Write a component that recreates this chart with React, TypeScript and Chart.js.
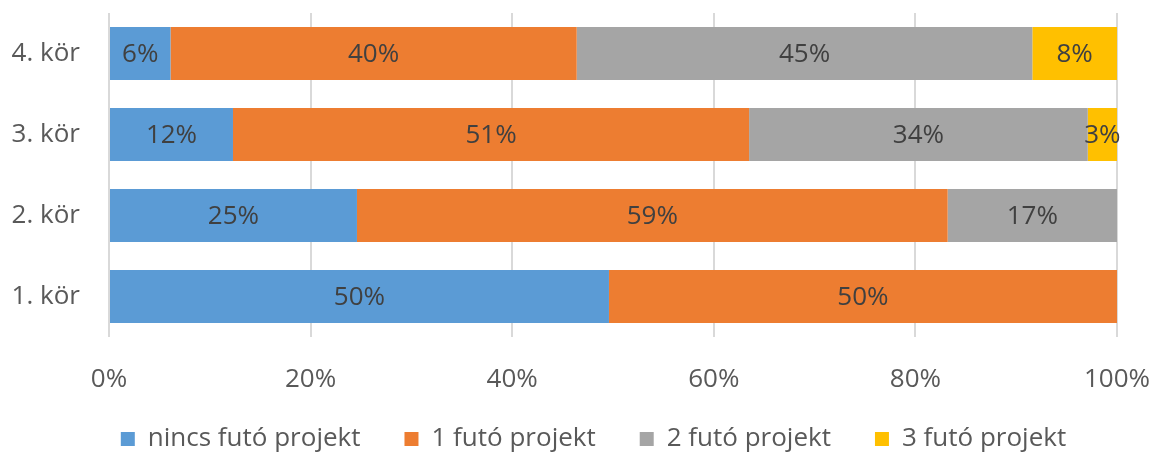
import React, { useEffect, useRef } from "react";
import { Chart, registerables } from "chart.js";

Chart.register(...registerables);

const categories = ["4. kör", "3. kör", "2. kör", "1. kör"];
const seriesNames = ["nincs futó projekt", "1 futó projekt", "2 futó projekt", "3 futó projekt"];
const nincs = [6.1, 12.3, 24.6, 49.6];
const egy = [40.3, 51.2, 58.6, 50.4];
const ketto = [45.2, 33.6, 16.8, 0];
const harom = [8.4, 2.9, 0, 0];
const colors = ["#5B9BD5", "#ED7D31", "#A5A5A5", "#FFC000"];
const tickValues = [0, 20, 40, 60, 80, 100];

const FONT = "'Open Sans', 'Noto Sans', sans-serif";
const FS = 26;

const labelPlugin = {
  id: "barLabels",
  afterDatasetsDraw(chart: any) {
    const ctx = chart.ctx;
    ctx.save();
    ctx.font = `${FS}px ${FONT}`;
    ctx.fillStyle = "#404040";
    ctx.textAlign = "center";
    ctx.textBaseline = "middle";
    chart.data.datasets.forEach((ds: any, di: number) => {
      const meta = chart.getDatasetMeta(di);
      meta.data.forEach((bar: any, i: number) => {
        const v = ds.data[i];
        if (!v) return;
        const x = (bar.x + bar.base) / 2;
        ctx.fillText(Math.round(v) + "%", x, bar.y + 1);
      });
    });
    ctx.restore();
  },
};

const layoutTweak = {
  id: "layoutTweak",
  afterLayout(chart: any) {
    const x = chart.scales.x;
    x.bottom = x.top + 64;
    const lg = chart.legend;
    if (lg) {
      lg.left += 35;
      lg.right += 35;
      lg.top += 2;
      lg.bottom += 2;
    }
  },
};

export default function App() {
  const ref = useRef<HTMLCanvasElement>(null);
  useEffect(() => {
    if (!ref.current) return;
    const chart = new Chart(ref.current, {
      type: "bar",
      data: {
        labels: categories,
        datasets: [nincs, egy, ketto, harom].map((d, i) => ({
          label: seriesNames[i],
          data: d,
          backgroundColor: colors[i],
          borderWidth: 0,
          categoryPercentage: 1,
          barPercentage: 0.654,
        })),
      },
      options: {
        indexAxis: "y",
        animation: false,
        responsive: false,
        maintainAspectRatio: false,
        layout: { padding: { left: 0, right: 37, top: 13, bottom: 0 } },
        scales: {
          x: {
            stacked: true,
            min: 0,
            max: 100,
            afterBuildTicks: (axis: any) => {
              axis.ticks = tickValues.map((v) => ({ value: v }));
            },
            ticks: {
              callback: (v: any) => v + "%",
              color: "#595959",
              font: { family: FONT, size: FS },
              padding: 27,
              maxRotation: 0,
            },
            grid: { color: "#D9D9D9", lineWidth: 2, drawTicks: false },
            border: { display: false },
            afterFit: (axis: any) => {
              axis.height = 43;
              axis.paddingLeft = 0;
              axis.paddingRight = 0;
            },
          },
          y: {
            stacked: true,
            ticks: {
              color: "#595959",
              font: { family: FONT, size: FS },
              padding: 29,
            },
            grid: { display: false, drawTicks: false },
            border: { display: false },
            afterFit: (axis: any) => {
              axis.width = 109;
              axis.paddingTop = 0;
              axis.paddingBottom = 0;
            },
          },
        },
        plugins: {
          legend: {
            position: "bottom",
            maxHeight: 74,
            labels: {
              color: "#595959",
              font: { family: FONT, size: FS },
              boxWidth: 14,
              boxHeight: 14,
              padding: 44,
            },
          },
          tooltip: { enabled: false },
        },
      },
      plugins: [labelPlugin, layoutTweak],
    });
    return () => chart.destroy();
  }, []);
  return (
    <div style={{ position: "fixed", left: 0, top: 0, width: 1154, height: 454, background: "#fff" }}>
      <canvas ref={ref} width={1154} height={454} />
    </div>
  );
}
